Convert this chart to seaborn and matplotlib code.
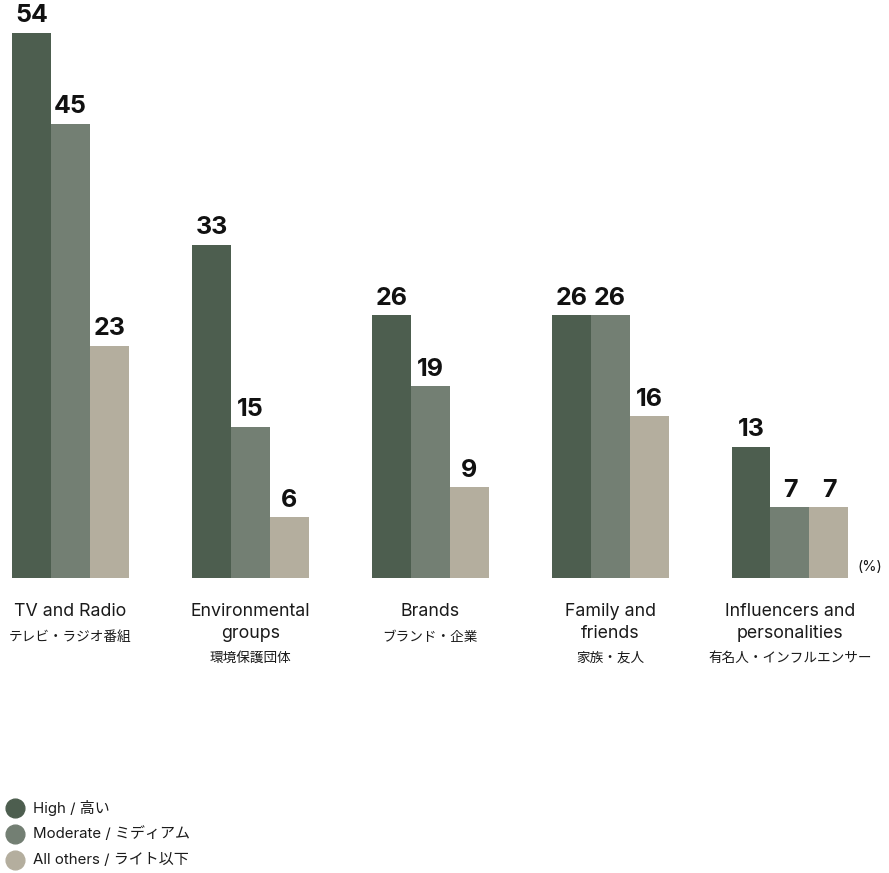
import matplotlib
matplotlib.use("Agg")
import matplotlib.pyplot as plt
from matplotlib.lines import Line2D
from matplotlib.transforms import blended_transform_factory
import seaborn as sns
import pandas as pd

# --- data -----------------------------------------------------------------
categories = ["TV and Radio", "Environmental groups", "Brands",
              "Family and friends", "Influencers and personalities"]
label_en = [["TV and Radio"], ["Environmental", "groups"], ["Brands"],
            ["Family and", "friends"], ["Influencers and", "personalities"]]
label_jp = ["テレビ・ラジオ番組", "環境保護団体", "ブランド・企業",
            "家族・友人", "有名人・インフルエンサー"]

levels = ["High", "Moderate", "All others"]
level_jp = ["高い", "ミディアム", "ライト以下"]

high = [54, 33, 26, 26, 13]
moderate = [45, 15, 19, 26, 7]
others = [23, 6, 9, 16, 7]

colors = ["#4d5e4f", "#737f73", "#b4ae9e"]

df = pd.DataFrame({
    "category": categories * 3,
    "level": [levels[0]] * 5 + [levels[1]] * 5 + [levels[2]] * 5,
    "value": high + moderate + others,
})

# --- figure ---------------------------------------------------------------
W, H = 889, 873
sns.set_theme(style="white")
plt.rcParams["font.family"] = ["Inter", "Noto Sans CJK JP", "DejaVu Sans"]
fig = plt.figure(figsize=(W / 100, H / 100), dpi=100)

base_px = 578          # bar baseline, pixels from top
px_per_unit = 10.1
ax = fig.add_axes([0, (H - base_px) / H, 1, base_px / H])

sns.barplot(data=df, x="category", y="value", hue="level",
            order=categories, hue_order=levels, palette=colors,
            width=0.65, gap=0, saturation=1, legend=False,
            linewidth=0, edgecolor="none", ax=ax)

group_px = 179.8
ax.set_xlim(-70.5 / group_px, 4 + (W - 790) / group_px)
ax.set_ylim(0, base_px / px_per_unit)
ax.axis("off")

for cont in ax.containers:
    ax.bar_label(cont, fmt="%d", padding=4, fontsize=18,
                 fontweight="bold", color="#111111")

# category labels under the bars
trans = blended_transform_factory(ax.transData, fig.transFigure)
def fy(py):
    return 1 - py / H

for i, (en, jp) in enumerate(zip(label_en, label_jp)):
    y = 612
    for line in en:
        ax.text(i, fy(y), line, transform=trans, ha="center", va="center",
                fontsize=12.8, color="#1a1a1a", clip_on=False)
        y += 21
    y += 4
    ax.text(i, fy(y), jp, transform=trans, ha="center", va="center",
            fontsize=9.8, color="#1a1a1a", clip_on=False)

fig.text(870 / W, fy(567), "(%)", ha="center", va="center",
         fontsize=10.5, color="#1a1a1a")

# legend
for k, (name, jp) in enumerate(zip(levels, level_jp)):
    py = 808 + 26 * k
    fig.add_artist(Line2D([14.5 / W], [fy(py)], transform=fig.transFigure,
                          marker="o", markersize=13.5, color=colors[k],
                          linestyle="none"))
    fig.text(33 / W, fy(py), f"{name} / {jp}", ha="left", va="center",
             fontsize=10.8, color="#1a1a1a")

fig.savefig("out.png", dpi=100)
